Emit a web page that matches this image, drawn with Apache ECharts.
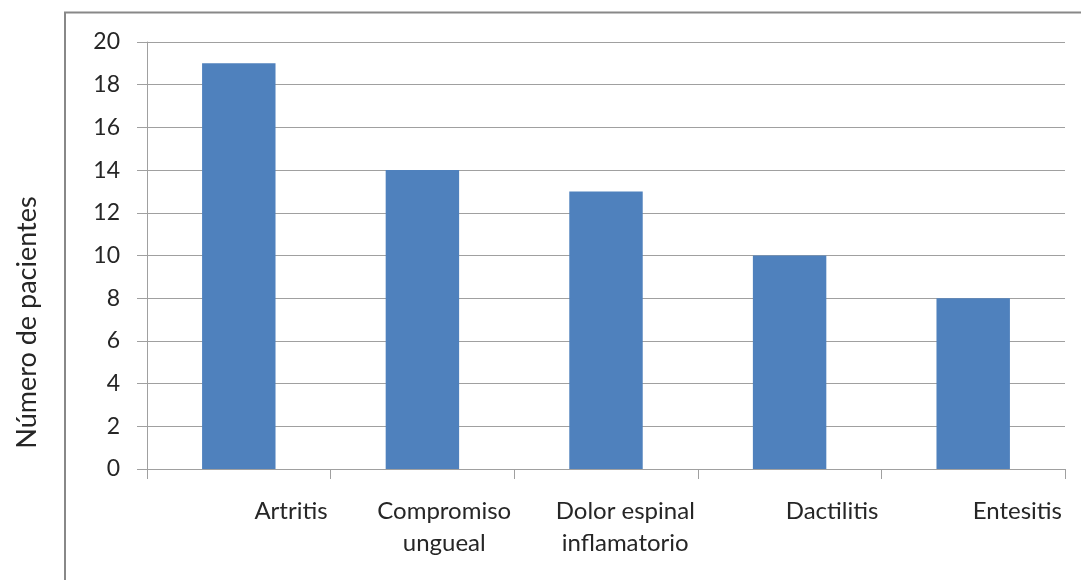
<!DOCTYPE html>
<html>
<head>
<meta charset="utf-8">
<script src="https://cdn.jsdelivr.net/npm/echarts@6/dist/echarts.min.js"></script>
<style>
  html, body { margin: 0; padding: 0; background: #fff; }
  #chart { width: 1081px; height: 580px; }
</style>
</head>
<body>
<div id="chart"></div>
<script>
// Manifestaciones clínicas: número de pacientes por categoría
const categories = ['Artritis', 'Compromiso\nungueal', 'Dolor espinal\ninflamatorio', 'Dactilitis', 'Entesitis'];
const pacientes = [19, 14, 13, 10, 8];
const yTicks = { min: 0, max: 20, interval: 2 };
const yTitle = 'Número de pacientes';

const FONT = 'Lato, "Open Sans", sans-serif';
const TEXT = '#262626';
const GRID = '#a0a0a0';

const chart = echarts.init(document.getElementById('chart'), null, { renderer: 'canvas' });

chart.setOption({
  animation: false,
  backgroundColor: '#ffffff',
  grid: { left: 147, right: 16, top: 42, bottom: 111, containLabel: false },
  graphic: [{
    // chart-area border (runs off the right and bottom edges)
    type: 'rect',
    shape: { x: 65, y: 12.5, width: 1100, height: 700 },
    style: { fill: 'none', stroke: '#888888', lineWidth: 2 },
    silent: true, z: -1
  }],
  xAxis: [{
    type: 'category',
    data: categories,
    position: 'bottom',
    axisLine: { show: true, lineStyle: { color: GRID, width: 1 } },
    axisTick: { show: true, length: 10, interval: 0, lineStyle: { color: GRID } },
    axisLabel: { show: false },
    splitLine: { show: false }
  }, {
    // category names, right-aligned against each category's right boundary
    type: 'category',
    data: [''].concat(categories),
    position: 'bottom',
    boundaryGap: false,
    axisLine: { show: false },
    axisTick: { show: false },
    splitLine: { show: false },
    axisLabel: {
      interval: 0,
      align: 'right',
      margin: 26,
      padding: [0, 3, 0, 0],
      formatter: v => v ? v.split('\n').map(s => '{c|' + s + '}').join('\n') : '',
      rich: { c: { align: 'center', fontSize: 24, lineHeight: 32, fontFamily: FONT, color: TEXT } }
    }
  }],
  yAxis: {
    type: 'value',
    min: yTicks.min, max: yTicks.max, interval: yTicks.interval,
    name: yTitle,
    nameLocation: 'middle',
    nameGap: 106,
    nameRotate: 90,
    nameTextStyle: { fontSize: 27, fontFamily: FONT, color: TEXT, padding: [0, 134, 0, 0] },
    axisLine: { show: true, lineStyle: { color: GRID, width: 1 } },
    axisTick: { show: true, length: 10, lineStyle: { color: GRID } },
    axisLabel: { fontSize: 23, fontFamily: FONT, color: TEXT, margin: 27 },
    splitLine: { show: true, lineStyle: { color: GRID, width: 1 } }
  },
  series: [{
    type: 'bar',
    xAxisIndex: 0,
    data: pacientes,
    barWidth: '40%',
    itemStyle: { color: '#4f81bd' }
  }]
});
</script>
</body>
</html>
